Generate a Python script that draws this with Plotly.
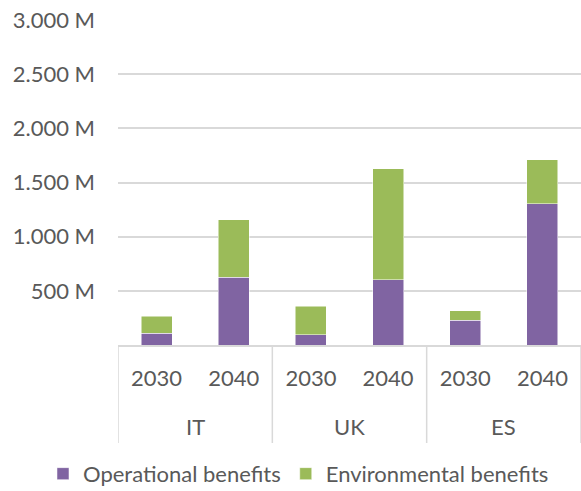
import plotly.graph_objects as go

# Countries and horizon years (two-level category axis)
countries = ["IT", "IT", "UK", "UK", "ES", "ES"]
years = ["2030", "2040", "2030", "2040", "2030", "2040"]

# Benefits in millions
operational = [108, 626, 95, 601, 230, 1306]
environmental = [159, 530, 261, 1025, 86, 405]

y_ticks = [500, 1000, 1500, 2000, 2500, 3000]

TEXT = "#595959"
GRID = "#D9D9D9"
FONT = "Lato"
FS = 22

keys = [f"{c} {y}" for c, y in zip(countries, years)]
y_text = [f"{v:,}".replace(",", ".") + " M" for v in y_ticks]

fig = go.Figure()
fig.add_trace(go.Bar(
    x=keys, y=operational, name="Operational benefits",
    marker=dict(color="#8064A2", line=dict(color="white", width=0.5)),
))
fig.add_trace(go.Bar(
    x=keys, y=environmental, name="Environmental benefits",
    marker=dict(color="#9BBB59", line=dict(color="white", width=0.5)),
))

# Country group labels and group dividers below the axis
groups = []
for i, c in enumerate(countries):
    if not groups or groups[-1][0] != c:
        groups.append([c, i, i])
    else:
        groups[-1][2] = i
for c, i0, i1 in groups:
    fig.add_annotation(x=(i0 + i1) / 2, y=0, xref="x", yref="y", yshift=-81,
                       text=c, showarrow=False, yanchor="middle",
                       font=dict(family=FONT, size=FS, color=TEXT))
bounds = [g[1] - 0.5 for g in groups] + [groups[-1][2] + 0.5]
for b in bounds:
    fig.add_shape(type="line", xref="x", yref="paper", x0=b, x1=b,
                  y0=0, y1=-98 / 325, line=dict(color=GRID, width=1.5))

fig.update_layout(
    width=581, height=491,
    barmode="stack", bargap=0.6,
    plot_bgcolor="white", paper_bgcolor="white",
    margin=dict(l=118, r=0, t=20, b=146, autoexpand=False),
    font=dict(family=FONT, size=FS, color=TEXT),
    legend=dict(orientation="h", xref="paper", x=-0.162, xanchor="left",
                yref="paper", y=-0.461, yanchor="bottom",
                font=dict(size=FS, color=TEXT), traceorder="normal",
                itemwidth=30),
    showlegend=True,
)
fig.update_yaxes(
    range=[0, 3000], tickvals=y_ticks, ticktext=y_text,
    showgrid=True, gridcolor=GRID, gridwidth=1.5, zeroline=False,
    showline=False, ticklabelstandoff=22,
    tickfont=dict(size=FS, color=TEXT),
)
fig.update_xaxes(
    type="category", tickvals=keys, ticktext=years,
    range=[-0.5, len(keys) - 0.5],
    showline=True, linecolor=GRID, linewidth=1.5,
    ticks="", ticklabelstandoff=13,
    tickfont=dict(size=FS, color=TEXT),
)

fig.write_html("out.html")
